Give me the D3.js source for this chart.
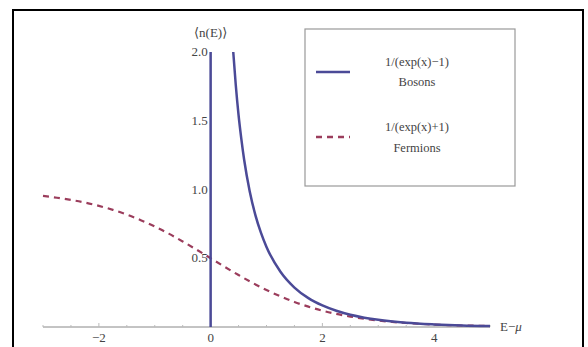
<html>
<head>
  <meta charset="utf-8" />
<script src="https://d3js.org/d3.v7.min.js"></script>
</head>
<style>
  body { margin: 0; background: #fff; }
  svg { display: block; }
  text { font-family: "Liberation Serif", "DejaVu Serif", serif; }
</style>
<body>
<svg class="main" width="588" height="347"></svg>
<script>

const fermiX = [-3, -2.75, -2.5, -2.25, -2, -1.75, -1.5, -1.25, -1, -0.75, -0.5, -0.25, 0,
  0.25, 0.5, 0.75, 1, 1.25, 1.5, 1.75, 2, 2.25, 2.5, 2.75, 3, 3.25, 3.5, 3.75, 4, 4.25, 4.5, 4.75, 5]
const fermiY = [0.953, 0.940, 0.924, 0.905, 0.881, 0.852, 0.818, 0.777, 0.731, 0.679, 0.622, 0.562, 0.5,
  0.438, 0.378, 0.321, 0.269, 0.223, 0.182, 0.148, 0.119, 0.095, 0.076, 0.060, 0.047, 0.037, 0.029, 0.023, 0.018, 0.014, 0.011, 0.009, 0.007]

const boseX = [0.405, 0.45, 0.5, 0.55, 0.6, 0.7, 0.8, 0.9, 1, 1.25, 1.5, 1.75, 2, 2.25, 2.5, 2.75, 3, 3.5, 4, 4.5, 5]
const boseY = [2.0, 1.76, 1.541, 1.366, 1.216, 0.986, 0.816, 0.686, 0.582, 0.402, 0.287, 0.210, 0.157, 0.118, 0.089, 0.068, 0.052, 0.031, 0.019, 0.011, 0.007]

// the jump at x = 0
const jumpX = [0, 0]
const jumpY = [0, 2]

const xTicks = [-2, 0, 2, 4]
const yTicks = [0.5, 1.0, 1.5, 2.0]
const legendLabels = [["1/(exp(x)\u22121)", "Bosons"], ["1/(exp(x)+1)", "Fermions"]]

const boseColor = "#4b4a97"
const fermiColor = "#9b3d5c"

const svg = d3.select("svg")

svg.append("rect")
  .attr("x", 13).attr("y", 10)
  .attr("width", 570).attr("height", 345)
  .attr("fill", "none").attr("stroke", "#000").attr("stroke-width", 2)

const x = d3.scaleLinear().domain([-3, 5]).range([43, 490])
const y = d3.scaleLinear().domain([0, 2]).range([327, 52])

// x axis
svg.append("line")
  .attr("x1", x(-3)).attr("x2", x(5))
  .attr("y1", y(0)).attr("y2", y(0))
  .attr("stroke", "#888").attr("stroke-width", 1)

const minor = d3.range(-3, 5.01, 0.5)
svg.selectAll("line.xminor")
  .data(minor)
  .enter()
  .append("line")
  .attr("class", "xminor")
  .attr("x1", d => x(d)).attr("x2", d => x(d))
  .attr("y1", y(0)).attr("y2", d => y(0) - (Number.isInteger(d / 2) ? 4 : 2))
  .attr("stroke", "#bbb")

svg.selectAll("text.xt")
  .data(xTicks)
  .enter()
  .append("text")
  .attr("class", "xt")
  .attr("x", d => x(d)).attr("y", y(0) + 15)
  .attr("text-anchor", "middle")
  .attr("font-size", 13).attr("fill", "#444")
  .text(d => d < 0 ? "\u2212" + Math.abs(d) : d)

const xl = svg.append("text")
  .attr("x", x(5) + 10).attr("y", y(0) + 4)
  .attr("font-size", 13).attr("fill", "#444")
xl.append("tspan").text("E\u2212")
xl.append("tspan").attr("font-style", "italic").text("\u03bc")

// y axis
svg.append("line")
  .attr("x1", x(0)).attr("x2", x(0))
  .attr("y1", y(0)).attr("y2", y(2))
  .attr("stroke", "#888")

svg.selectAll("text.yt")
  .data(yTicks)
  .enter()
  .append("text")
  .attr("class", "yt")
  .attr("x", x(0) - 3).attr("y", d => y(d) + 4)
  .attr("text-anchor", "end")
  .attr("font-size", 13).attr("fill", "#444")
  .text(d => d.toFixed(1))

svg.append("text")
  .attr("x", x(0)).attr("y", 37)
  .attr("text-anchor", "middle")
  .attr("font-size", 13).attr("fill", "#444")
  .text("\u27e8n(E)\u27e9")

const line = d3.line()
  .x(d => x(d[0]))
  .y(d => y(d[1]))
  .curve(d3.curveMonotoneX)

svg.append("path")
  .datum(fermiX.map((v, i) => [v, fermiY[i]]))
  .attr("d", line)
  .attr("fill", "none")
  .attr("stroke", fermiColor)
  .attr("stroke-width", 2.2)
  .attr("stroke-dasharray", "6,5")

svg.append("path")
  .datum(jumpX.map((v, i) => [v, jumpY[i]]))
  .attr("d", d3.line().x(d => x(d[0])).y(d => y(d[1])))
  .attr("fill", "none")
  .attr("stroke", boseColor)
  .attr("stroke-width", 2.5)

svg.append("path")
  .datum(boseX.map((v, i) => [v, boseY[i]]))
  .attr("d", line)
  .attr("fill", "none")
  .attr("stroke", boseColor)
  .attr("stroke-width", 2.5)

// legend
const lg = svg.append("g")
lg.append("rect")
  .attr("x", 305).attr("y", 29)
  .attr("width", 210).attr("height", 157)
  .attr("fill", "#fff").attr("stroke", "#999").attr("stroke-width", 1.2)

const rows = [
  { color: boseColor, dash: null, ly: 72, t1: 62, t2: 82 },
  { color: fermiColor, dash: "6,5", ly: 137, t1: 127, t2: 148 }
]
rows.forEach((r, i) => {
  lg.append("line")
    .attr("x1", 316).attr("x2", 350)
    .attr("y1", r.ly).attr("y2", r.ly)
    .attr("stroke", r.color).attr("stroke-width", 2.5)
    .attr("stroke-dasharray", r.dash)
  lg.append("text")
    .attr("x", 417).attr("y", r.t1 + 4)
    .attr("text-anchor", "middle")
    .attr("font-size", 12.5).attr("fill", "#444")
    .text(legendLabels[i][0])
  lg.append("text")
    .attr("x", 417).attr("y", r.t2 + 4)
    .attr("text-anchor", "middle")
    .attr("font-size", 12.5).attr("fill", "#444")
    .text(legendLabels[i][1])
})

</script>
</body>
</html>
